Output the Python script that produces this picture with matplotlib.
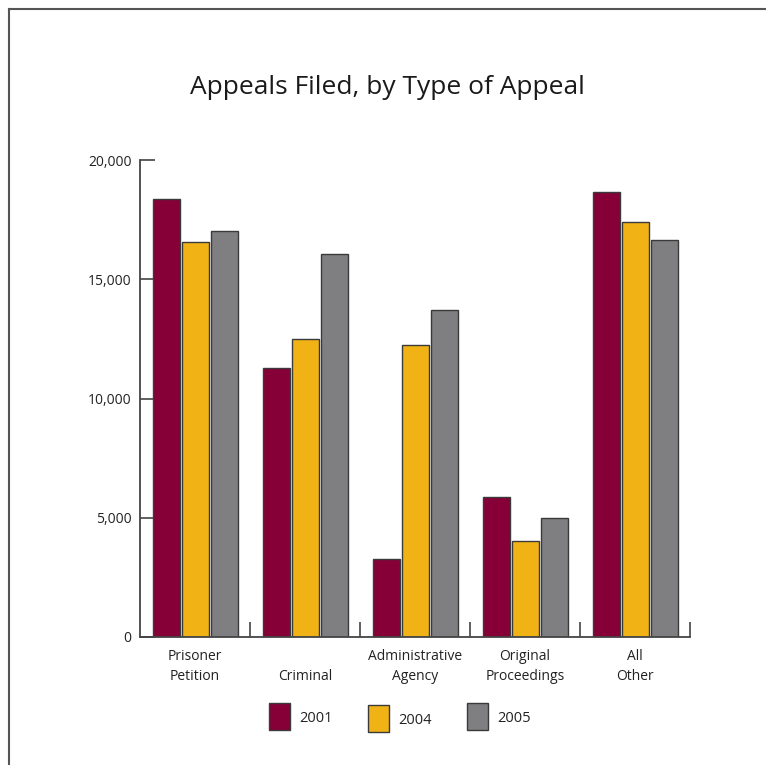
import numpy as np
import matplotlib
matplotlib.use("Agg")
from matplotlib import pyplot as plt
from matplotlib.lines import Line2D
from matplotlib.patches import Rectangle

categories = ["Prisoner\nPetition", "\nCriminal", "Administrative\nAgency",
              "Original\nProceedings", "All\nOther"]
years = ["2001", "2004", "2005"]
v2001 = [18350, 11290, 3270, 5860, 18670]
v2004 = [16550, 12490, 12240, 4040, 17390]
v2005 = [17030, 16060, 13710, 4990, 16640]
yticks = [0, 5000, 10000, 15000, 20000]
ytick_labels = ["0", "5,000", "10,000", "15,000", "20,000"]

colors = ["#860037", "#F0B215", "#7F7F82"]
edge = "#3a3a3a"

plt.rcParams['font.family'] = ['Open Sans', 'DejaVu Sans']

W, H = 766, 765
fig = plt.figure(figsize=(W / 100, H / 100), dpi=100)
ax = fig.add_axes([140 / W, 1 - 637 / H, 550 / W, 477 / H])

x = np.arange(len(categories)) + 0.5
bw = 27 / 110
step = 29 / 110
for i, vals in enumerate([v2001, v2004, v2005]):
    ax.bar(x + (i - 1) * step, vals, width=bw, color=colors[i],
           edgecolor=edge, linewidth=1.0, zorder=2)

ax.set_xlim(0, 5)
ax.set_ylim(0, 20000)
ax.set_yticks(yticks)
ax.set_yticklabels(ytick_labels)
ax.set_xticks(x)
ax.set_xticklabels(categories, linespacing=1.45)
ax.set_xticks(np.arange(1, 6), minor=True)

ax.tick_params(axis='y', direction='in', length=11, width=1.2, color='#444444',
               labelsize=10, pad=6, labelcolor='#222222')
ax.tick_params(axis='x', which='major', length=0, labelsize=10, pad=9,
               labelcolor='#222222')
ax.tick_params(axis='x', which='minor', direction='in', length=11, width=1.2,
               color='#444444')

for s in ['top', 'right']:
    ax.spines[s].set_visible(False)
for s in ['left', 'bottom']:
    ax.spines[s].set_color('#444444')
    ax.spines[s].set_linewidth(1.3)

fig.text(387 / W, 1 - 88 / H, "Appeals Filed, by Type of Appeal",
         ha='center', va='center', fontsize=19, color='#1a1a1a')

# legend built by hand
leg_x = [269, 368, 467]
leg_y = [703, 705, 703]
for i, yr in enumerate(years):
    fig.add_artist(Rectangle((leg_x[i] / W, 1 - (leg_y[i] + 27) / H),
                             21 / W, 27 / H, facecolor=colors[i],
                             edgecolor=edge, linewidth=1.0,
                             transform=fig.transFigure))
    fig.text((leg_x[i] + 30) / W, 1 - (leg_y[i] + 15) / H, yr,
             ha='left', va='center', fontsize=10.5, color='#222222')

# page border
fig.add_artist(Line2D([9 / W, 1], [1 - 9 / H, 1 - 9 / H],
                      color='#555555', linewidth=1.5, transform=fig.transFigure))
fig.add_artist(Line2D([9 / W, 9 / W], [0, 1 - 9 / H],
                      color='#555555', linewidth=1.5, transform=fig.transFigure))

fig.savefig("out.png", dpi=100)
